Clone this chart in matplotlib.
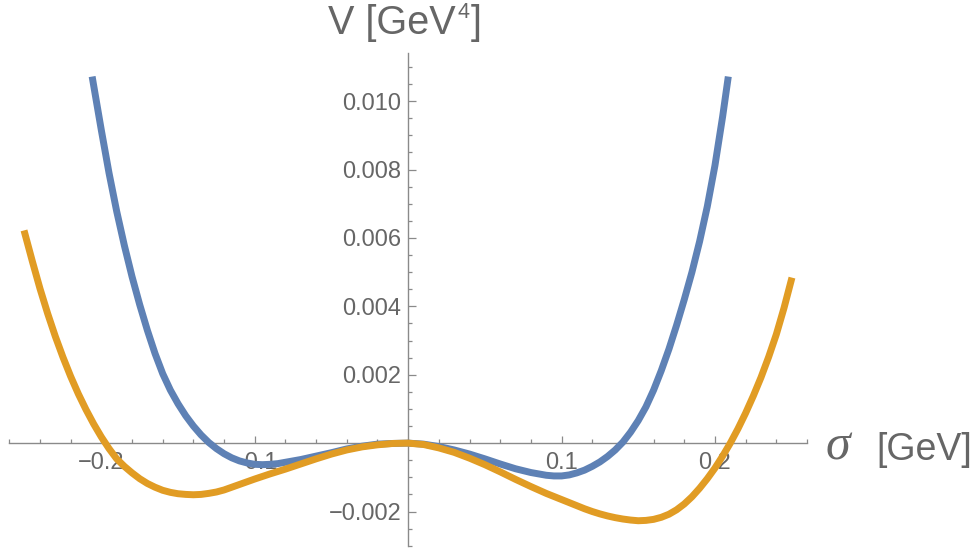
import matplotlib

matplotlib.use("Agg")

import matplotlib.pyplot as plt
from matplotlib.ticker import FixedLocator, FixedFormatter, MultipleLocator


# values (sigma in GeV, V in GeV^4)
blue_sigma = [
    -0.206, -0.200, -0.195, -0.190, -0.185, -0.180, -0.175, -0.170, -0.165,
    -0.160, -0.155, -0.150, -0.145, -0.140, -0.135, -0.130, -0.125, -0.120,
    -0.115, -0.110, -0.105, -0.100, -0.095, -0.090, -0.085, -0.080, -0.070,
    -0.060, -0.050, -0.040, -0.030, -0.020, -0.010, 0.000, 0.010, 0.020,
    0.030, 0.040, 0.050, 0.060, 0.070, 0.080, 0.090, 0.095, 0.100, 0.105,
    0.110, 0.115, 0.120, 0.125, 0.130, 0.135, 0.140, 0.145, 0.150, 0.155,
    0.160, 0.165, 0.170, 0.175, 0.180, 0.185, 0.190, 0.195, 0.200, 0.205,
    0.2087,
]
blue_v = [
    0.01072, 0.00915, 0.00790, 0.00678, 0.00578, 0.00487, 0.00405, 0.00330,
    0.00262, 0.00203, 0.00155, 0.00115, 0.00080, 0.00050, 0.00024, 0.00002,
    -0.00016, -0.00031, -0.00043, -0.00052, -0.00058, -0.00062, -0.00063,
    -0.00062, -0.00060, -0.00056, -0.00048, -0.00038, -0.00028, -0.00017,
    -0.00009, -0.00003, -0.00001, 0.0, -0.00003, -0.00010, -0.00020,
    -0.00032, -0.00046, -0.00061, -0.00075, -0.00086, -0.00094, -0.00096,
    -0.00096, -0.00093, -0.00087, -0.00079, -0.00068, -0.00055, -0.00039,
    -0.00020, 0.00003, 0.00032, 0.00066, 0.00106, 0.00155, 0.00212, 0.00275,
    0.00345, 0.00420, 0.00500, 0.00590, 0.00692, 0.00812, 0.00955, 0.01072,
]

orange_sigma = [
    -0.2504, -0.245, -0.240, -0.235, -0.230, -0.225, -0.220, -0.215, -0.210,
    -0.205, -0.200, -0.195, -0.190, -0.185, -0.180, -0.175, -0.170, -0.165,
    -0.160, -0.155, -0.150, -0.145, -0.140, -0.135, -0.130, -0.125, -0.120,
    -0.115, -0.110, -0.105, -0.100, -0.090, -0.080, -0.070, -0.060, -0.050,
    -0.040, -0.030, -0.020, -0.010, 0.000, 0.010, 0.020, 0.030, 0.040, 0.050,
    0.060, 0.070, 0.080, 0.090, 0.100, 0.105, 0.110, 0.115, 0.120, 0.125,
    0.130, 0.135, 0.140, 0.145, 0.150, 0.155, 0.160, 0.165, 0.170, 0.175,
    0.180, 0.185, 0.190, 0.195, 0.200, 0.205, 0.210, 0.215, 0.220, 0.225,
    0.230, 0.235, 0.240, 0.245, 0.2502,
]
orange_v = [
    0.00622, 0.00532, 0.00452, 0.00379, 0.00312, 0.00251, 0.00195, 0.00144,
    0.00098, 0.00056, 0.00018, -0.00016, -0.00046, -0.00068, -0.00087,
    -0.00104, -0.00118, -0.00129, -0.00138, -0.00144, -0.00148, -0.00150,
    -0.00151, -0.00150, -0.00147, -0.00143, -0.00137, -0.00129, -0.00121,
    -0.00113, -0.00105, -0.00090, -0.00076, -0.00061, -0.00046, -0.00032,
    -0.00020, -0.00011, -0.00005, -0.00001, 0.0, -0.00004, -0.00014,
    -0.00027, -0.00044, -0.00063, -0.00084, -0.00106, -0.00127, -0.00147,
    -0.00165, -0.00174, -0.00183, -0.00192, -0.00200, -0.00207, -0.00213,
    -0.00218, -0.00222, -0.00225, -0.00227, -0.00226, -0.00223, -0.00217,
    -0.00208, -0.00195, -0.00178, -0.00157, -0.00132, -0.00104, -0.00073,
    -0.00038, 0.00000, 0.00042, 0.00088, 0.00138, 0.00192, 0.00252, 0.00318,
    0.00395, 0.00484,
]

x_ticks = [-0.2, -0.1, 0.1, 0.2]
x_tick_labels = ["\u22120.2", "\u22120.1", "0.1", "0.2"]
y_ticks = [-0.002, 0.002, 0.004, 0.006, 0.008, 0.010]
y_tick_labels = ["\u22120.002", "0.002", "0.004", "0.006", "0.008", "0.010"]

BLUE = "#5E81B5"
ORANGE = "#E19C24"
AXIS_GRAY = "#8a8a8a"
TEXT_GRAY = "#666666"

plt.rcParams["font.family"] = ["Liberation Sans", "DejaVu Sans"]

W, H = 980, 551
fig = plt.figure(figsize=(W / 100, H / 100), dpi=100)
ax = fig.add_axes([9.3 / W, 5.3 / H, 797.7 / W, 492.4 / H])
ax.patch.set_visible(False)

ax.plot(blue_sigma, blue_v, color=BLUE, linewidth=5,
        solid_capstyle="butt", solid_joinstyle="round", zorder=3)
ax.plot(orange_sigma, orange_v, color=ORANGE, linewidth=5,
        solid_capstyle="butt", solid_joinstyle="round", zorder=4)

ax.set_xlim(-0.26, 0.26)
ax.set_ylim(-0.003, 0.0114)

for side in ["top", "right"]:
    ax.spines[side].set_visible(False)
for side in ["left", "bottom"]:
    ax.spines[side].set_position(("data", 0))
    ax.spines[side].set_color(AXIS_GRAY)
    ax.spines[side].set_linewidth(1.0)

ax.xaxis.set_major_locator(FixedLocator(x_ticks))
ax.xaxis.set_major_formatter(FixedFormatter(x_tick_labels))
ax.xaxis.set_minor_locator(MultipleLocator(0.02))
ax.yaxis.set_major_locator(FixedLocator(y_ticks))
ax.yaxis.set_major_formatter(FixedFormatter(y_tick_labels))
ax.yaxis.set_minor_locator(MultipleLocator(0.0005))

ax.tick_params(which="both", direction="in", color=AXIS_GRAY, width=0.9,
               labelsize=17, labelcolor=TEXT_GRAY)
ax.tick_params(which="major", length=5.4)
ax.tick_params(which="minor", length=3.2)
ax.tick_params(axis="x", pad=6.5)
ax.tick_params(axis="y", pad=5)

# y axis label, built from pieces so the superscript sits like the original
renderer = fig.canvas.get_renderer()
lab_main = fig.text(328 / W, 1 - 34 / H, "V [GeV", ha="left", va="baseline",
                    fontsize=28.5, color=TEXT_GRAY)
x_end = lab_main.get_window_extent(renderer).x1
lab_sup = fig.text((x_end + 1.5) / W, 1 - 17.5 / H, "4", ha="left",
                   va="baseline", fontsize=15.5, color=TEXT_GRAY)
x_end = lab_sup.get_window_extent(renderer).x1
fig.text((x_end + 1.5) / W, 1 - 34 / H, "]", ha="left", va="baseline",
         fontsize=28.5, color=TEXT_GRAY)

# x axis label
fig.text(826 / W, 1 - 460 / H, "\u03c3", ha="left", va="baseline",
         fontsize=36, color=TEXT_GRAY, family="Liberation Serif", style="italic")
fig.text(876 / W, 1 - 460 / H, "[GeV]", ha="left", va="baseline",
         fontsize=27, color=TEXT_GRAY)

fig.savefig("out.png", dpi=100)
